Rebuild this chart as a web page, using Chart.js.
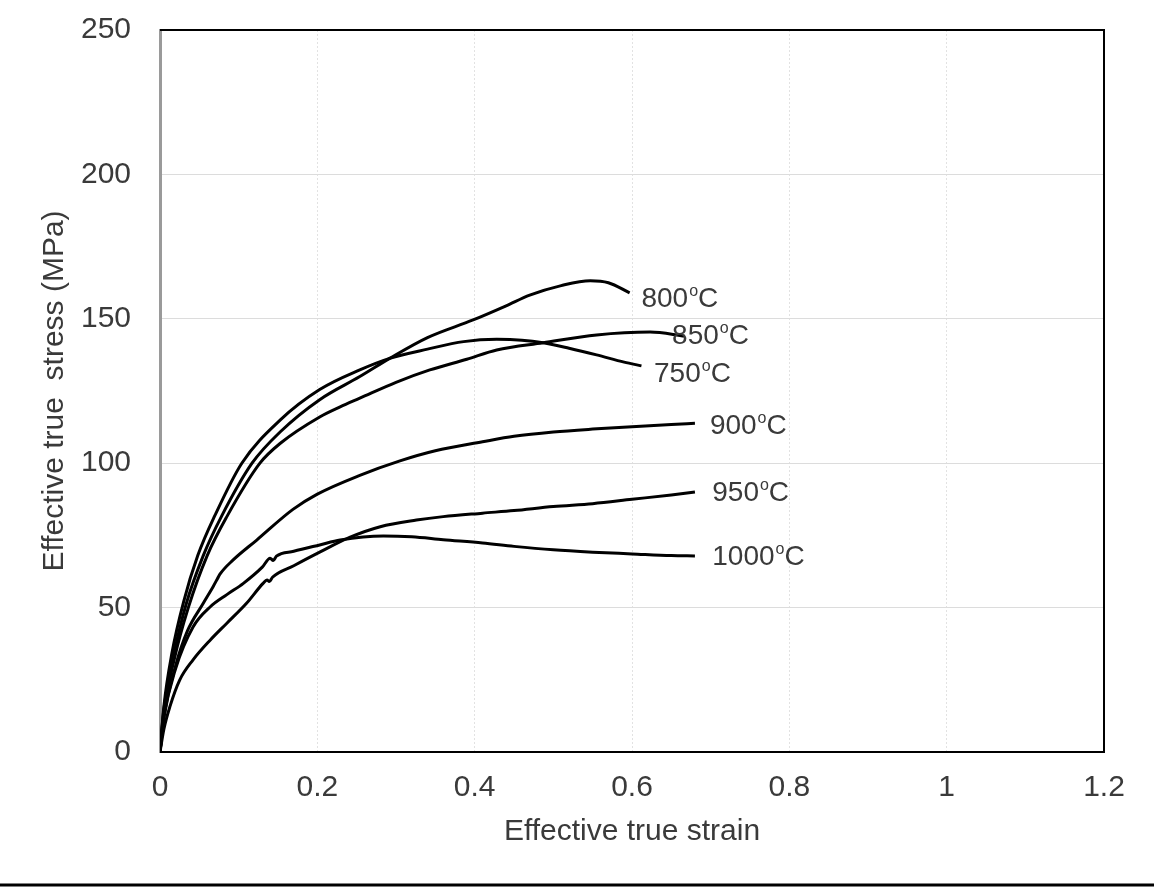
<!DOCTYPE html>
<html>
<head>
<meta charset="utf-8">
<script src="https://cdn.jsdelivr.net/npm/chart.js@4.4.1/dist/chart.umd.min.js"></script>
<style>
  html, body { margin: 0; padding: 0; background: #ffffff; }
  #wrap { width: 1154px; height: 887px; position: relative; }
</style>
</head>
<body>
<div id="wrap"><canvas id="chart" width="1154" height="887"></canvas></div>
<script>
// curves: effective true strain / effective true stress (MPa)
const strain750 = [0, 0.005, 0.015, 0.03, 0.048, 0.07, 0.104, 0.153, 0.203, 0.254, 0.292, 0.34, 0.386, 0.428, 0.46, 0.487, 0.52, 0.555, 0.59, 0.612];
const stress750 = [0, 16, 34, 52, 68, 82, 100, 115, 125.5, 132.3, 136.3, 139.5, 142.1, 142.9, 142.6, 141.7, 139.8, 137.5, 135, 133.7];

const strain800 = [0, 0.005, 0.017, 0.033, 0.055, 0.078, 0.117, 0.153, 0.203, 0.254, 0.292, 0.34, 0.398, 0.44, 0.47, 0.51, 0.547, 0.57, 0.597];
const stress800 = [0, 15, 33, 51, 68, 81.5, 100, 110.9, 122, 130, 136.3, 143.5, 149.6, 154.5, 158.2, 161.5, 163.2, 162.5, 159];

const strain850 = [0, 0.005, 0.018, 0.036, 0.06, 0.085, 0.127, 0.153, 0.203, 0.229, 0.254, 0.3, 0.343, 0.39, 0.428, 0.487, 0.555, 0.623, 0.667];
const stress850 = [0, 14, 32, 50, 68, 81.5, 100, 106.9, 116, 119.5, 122.5, 128, 132.3, 136, 139.2, 141.7, 144.4, 145.4, 144];

const strain900 = [0, 0.005, 0.02, 0.035, 0.055, 0.068, 0.073, 0.076, 0.093, 0.123, 0.169, 0.2, 0.254, 0.305, 0.35, 0.41, 0.45, 0.5, 0.55, 0.6, 0.65, 0.68];
const stress900 = [0, 12, 30, 42, 51.5, 57.5, 60, 61.5, 66.5, 73.4, 84, 89.3, 95.8, 100.8, 104.3, 107.4, 109.3, 110.8, 111.8, 112.6, 113.4, 113.8];

const strain950 = [0, 0.005, 0.0127, 0.025, 0.042, 0.064, 0.085, 0.11, 0.131, 0.136, 0.139, 0.143, 0.17, 0.203, 0.241, 0.28, 0.326, 0.36, 0.41, 0.45, 0.5, 0.55, 0.6, 0.65, 0.68];
const stress950 = [0, 8, 15.8, 24.9, 31.9, 38.8, 44.6, 51.5, 58.4, 59.6, 59, 60.5, 64.5, 69.2, 74.3, 78, 80.3, 81.5, 82.7, 83.6, 85, 86, 87.5, 89, 90];

const strain1000 = [0, 0.005, 0.02, 0.042, 0.064, 0.085, 0.106, 0.13, 0.14, 0.144, 0.148, 0.17, 0.203, 0.229, 0.284, 0.32, 0.36, 0.41, 0.45, 0.5, 0.55, 0.6, 0.65, 0.68];
const stress1000 = [0, 12, 29, 43.3, 50.3, 54.5, 58.4, 64, 67.1, 66.3, 67.8, 69.5, 71.7, 73.4, 74.8, 74.5, 73.5, 72.4, 71.2, 70, 69.2, 68.6, 68, 67.9];

// curve labels (temperature) and where their text starts, in data units
const labelTemps = ["800", "850", "750", "900", "950", "1000"];
const labelStrain = [0.612, 0.651, 0.628, 0.699, 0.702, 0.702];
const labelStress = [157.5, 144.7, 131.6, 113.6, 90.4, 68.2];

const xTicksMax = 1.2;
const yTicksMax = 250;

const fontFamily = "'Liberation Sans', Arial, sans-serif";
const textColor = "#3a3a3a";

function toPoints(xs, ys) {
    return xs.map((x, i) => ({ x: x, y: ys[i] }));
}

function curve(name, xs, ys) {
    return {
        label: name,
        data: toPoints(xs, ys),
        borderColor: "#000000",
        borderWidth: 3,
        pointRadius: 0,
        fill: false,
        cubicInterpolationMode: "monotone"
    };
}

const frameAndLabels = {
    id: "frameAndLabels",
    afterDraw(chart) {
        const { ctx, chartArea: a, scales } = chart;
        ctx.save();
        // top, right and bottom edges of the plot box
        ctx.setLineDash([]);
        ctx.strokeStyle = "#000000";
        ctx.lineWidth = 2;
        ctx.beginPath();
        ctx.moveTo(a.left, a.top);
        ctx.lineTo(a.right, a.top);
        ctx.lineTo(a.right, a.bottom);
        ctx.lineTo(a.left, a.bottom);
        ctx.stroke();

        // temperature labels with raised "o"
        ctx.fillStyle = textColor;
        ctx.textBaseline = "alphabetic";
        ctx.textAlign = "left";
        for (let i = 0; i < labelTemps.length; i++) {
            let x = scales.x.getPixelForValue(labelStrain[i]);
            const y = scales.y.getPixelForValue(labelStress[i]);
            ctx.font = "28px " + fontFamily;
            ctx.fillText(labelTemps[i], x, y + 10);
            x += ctx.measureText(labelTemps[i]).width + 1;
            ctx.font = "16px " + fontFamily;
            ctx.fillText("o", x, y - 1);
            x += ctx.measureText("o").width;
            ctx.font = "28px " + fontFamily;
            ctx.fillText("C", x, y + 10);
        }

        // rule under the figure
        ctx.lineWidth = 3;
        ctx.beginPath();
        ctx.moveTo(0, 885);
        ctx.lineTo(chart.width, 885);
        ctx.stroke();
        ctx.restore();
    }
};

const ctx = document.getElementById("chart");

new Chart(ctx, {
    type: "line",
    data: {
        datasets: [
            curve("750", strain750, stress750),
            curve("800", strain800, stress800),
            curve("850", strain850, stress850),
            curve("900", strain900, stress900),
            curve("950", strain950, stress950),
            curve("1000", strain1000, stress1000)
        ]
    },
    options: {
        responsive: false,
        animation: false,
        layout: {
            padding: { top: 30, right: 50, left: 0, bottom: 0 }
        },
        plugins: {
            legend: { display: false },
            tooltip: { enabled: false }
        },
        scales: {
            x: {
                type: "linear",
                min: 0,
                max: xTicksMax,
                afterFit: function(scale) {
                    scale.height = 135;
                },
                ticks: {
                    stepSize: 0.2,
                    padding: 18,
                    color: textColor,
                    font: { size: 30, family: fontFamily },
                    maxRotation: 0,
                    callback: function(value) {
                        return String(Number(value.toFixed(1)));
                    }
                },
                grid: {
                    color: "#e2e2e2",
                    lineWidth: 1,
                    drawTicks: false
                },
                border: {
                    color: "#000000",
                    width: 2,
                    dash: [2, 2]
                },
                title: {
                    display: true,
                    text: "Effective true strain",
                    color: textColor,
                    font: { size: 30, family: fontFamily },
                    padding: { top: 0, bottom: 37 }
                }
            },
            y: {
                min: 0,
                max: yTicksMax,
                afterFit: function(scale) {
                    scale.width = 160;
                    scale.paddingTop = 0;
                    scale.paddingBottom = 0;
                },
                ticks: {
                    stepSize: 50,
                    padding: 29,
                    color: textColor,
                    font: { size: 30, family: fontFamily }
                },
                grid: {
                    color: "#dcdcdc",
                    lineWidth: 1,
                    drawTicks: false
                },
                border: {
                    color: "#9a9a9a",
                    width: 3
                },
                title: {
                    display: true,
                    text: "Effective true  stress (MPa)",
                    color: textColor,
                    font: { size: 30, family: fontFamily },
                    padding: { top: 37, bottom: 0 }
                }
            }
        }
    },
    plugins: [frameAndLabels]
});
</script>
</body>
</html>
